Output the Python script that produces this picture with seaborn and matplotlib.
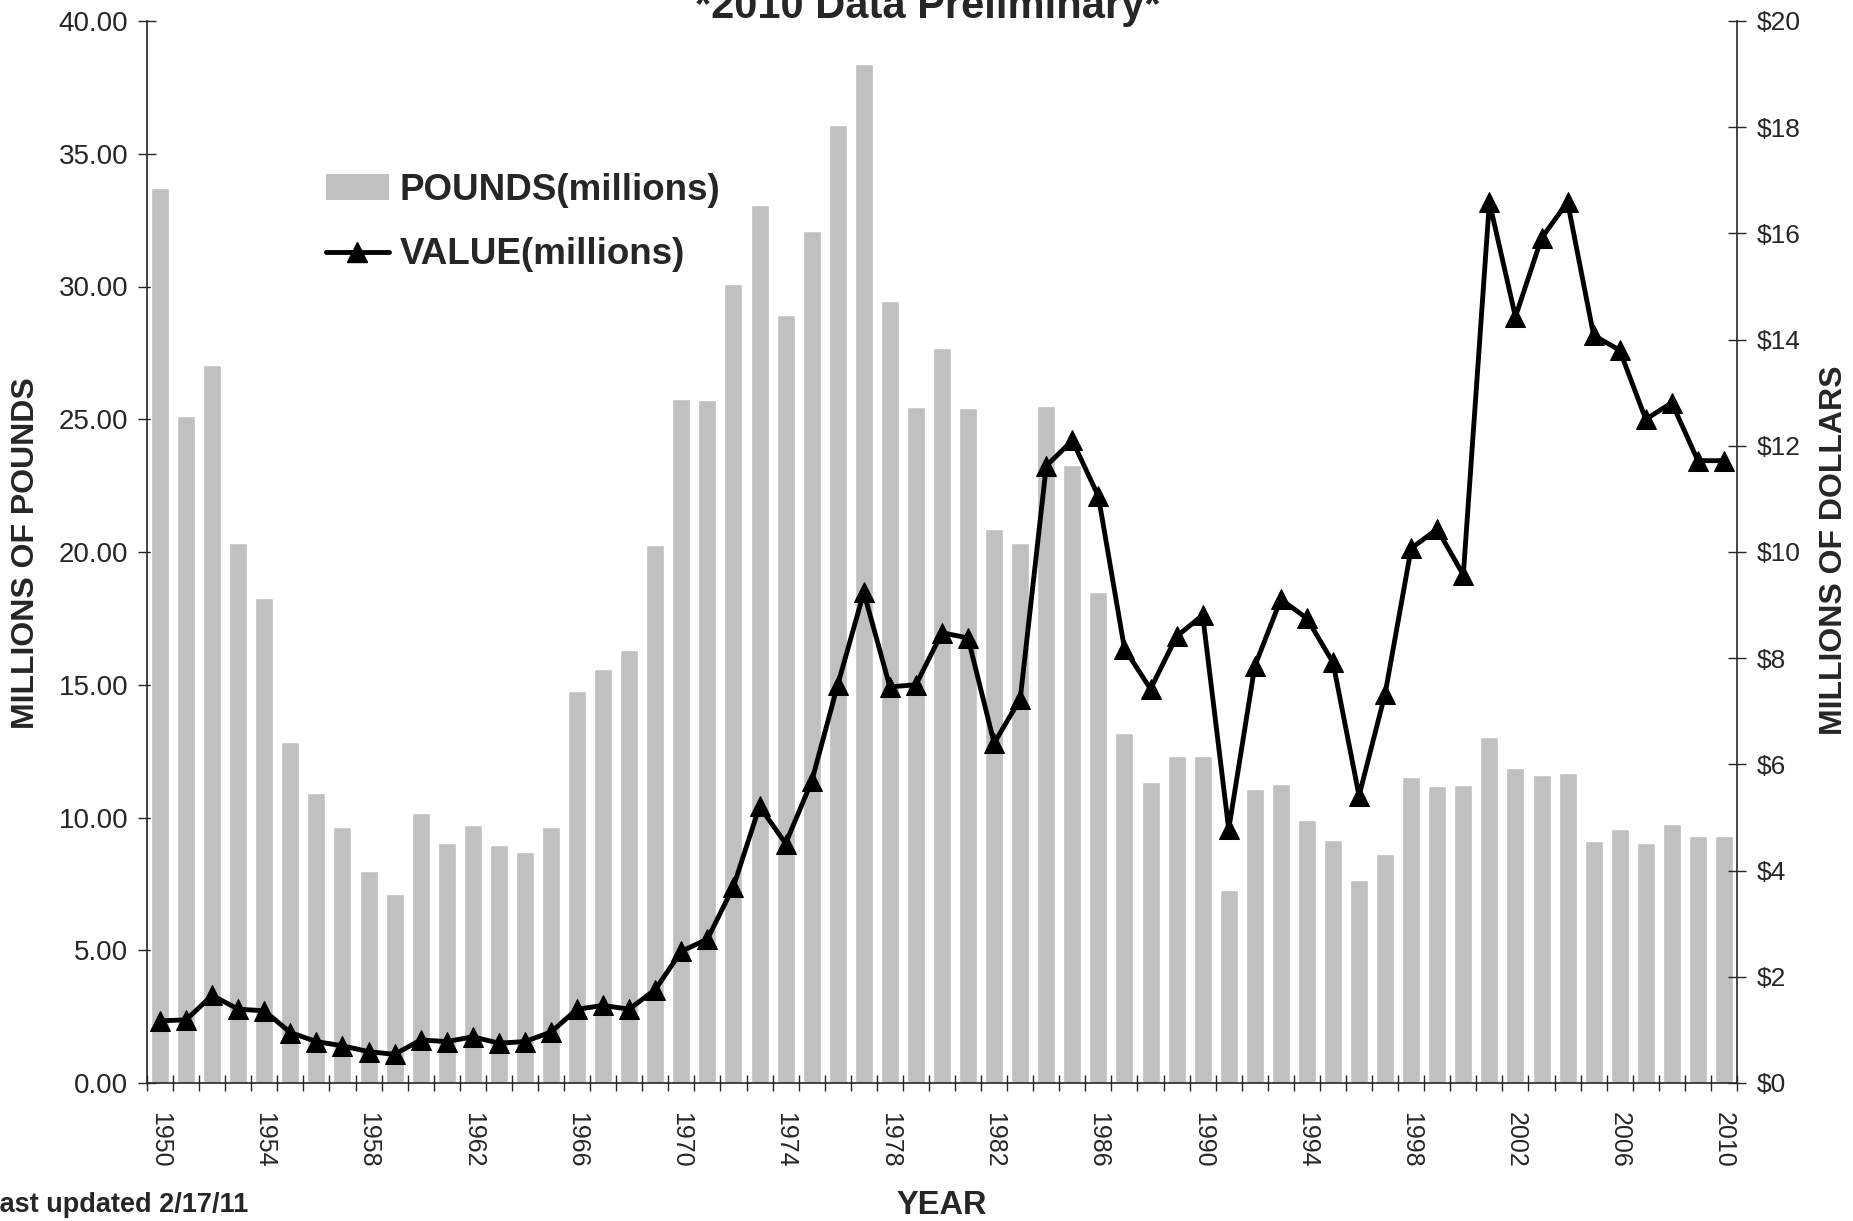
import numpy as np
import pandas as pd
import matplotlib
matplotlib.use("Agg")
import matplotlib.pyplot as plt
import seaborn as sns
from matplotlib.patches import Patch
from matplotlib.lines import Line2D

# --- datos ---
years = list(range(1950, 2011))
pounds = [33.72, 25.14, 27.06, 20.33, 18.27, 12.86, 10.93, 9.64, 8.00, 7.10,
          10.17, 9.03, 9.72, 8.98, 8.69, 9.64, 14.76, 15.58, 16.32, 20.25,
          25.77, 25.74, 30.10, 33.08, 28.94, 32.10, 36.09, 38.39, 29.44, 25.48,
          27.70, 25.43, 20.86, 20.33, 25.50, 23.29, 18.51, 13.20, 11.33, 12.33,
          12.33, 7.26, 11.09, 11.27, 9.90, 9.14, 7.63, 8.61, 11.54, 11.17,
          11.22, 13.02, 11.88, 11.59, 11.67, 9.11, 9.58, 9.03, 9.77, 9.32, 9.29]
values = [1.17, 1.19, 1.65, 1.39, 1.36, 0.95, 0.78, 0.70, 0.59, 0.54,
          0.81, 0.78, 0.87, 0.75, 0.78, 0.96, 1.39, 1.46, 1.39, 1.76,
          2.48, 2.71, 3.70, 5.21, 4.51, 5.68, 7.50, 9.24, 7.46, 7.50,
          8.48, 8.38, 6.40, 7.23, 11.62, 12.10, 11.05, 8.18, 7.42, 8.41,
          8.81, 4.78, 7.85, 9.11, 8.75, 7.92, 5.41, 7.33, 10.07, 10.43,
          9.57, 16.59, 14.43, 15.91, 16.59, 14.08, 13.80, 12.50, 12.81, 11.72, 11.72]
left_ticks = [0, 5, 10, 15, 20, 25, 30, 35, 40]
right_ticks = [0, 2, 4, 6, 8, 10, 12, 14, 16, 18, 20]
year_labels = list(range(1950, 2011, 4))

df = pd.DataFrame({"year": years, "pounds": pounds, "value": values})
df["pos"] = np.arange(len(df))

sns.set_style("ticks")
plt.rcParams["font.family"] = ["Liberation Sans", "DejaVu Sans"]

W, H = 1853, 1221
fig = plt.figure(figsize=(W / 100, H / 100), dpi=100)
ax = fig.add_axes([147 / W, 1 - 1083 / H, (1737 - 147) / W, (1083 - 21) / H])

# barras (libras)
sns.barplot(data=df, x="year", y="pounds", ax=ax, color="#C0C0C0",
            saturation=1, width=0.69)
ax.set_xlim(-0.5, len(df) - 0.5)
ax.set_ylim(0, 40)
ax.set_xlabel("")
ax.set_ylabel("")

# linea (valor)
ax2 = ax.twinx()
sns.lineplot(data=df, x="pos", y="value", ax=ax2, color="black", linewidth=3.5,
             marker="^", markersize=14.5, markeredgecolor="black")
ax2.set_ylim(0, 20)
ax2.set_xlim(-0.5, len(df) - 0.5)
ax2.set_ylabel("")
ax2.set_xlabel("")

# ejes y
ax.set_yticks(left_ticks)
ax.set_yticklabels([f"{v:.2f}" for v in left_ticks])
ax2.set_yticks(right_ticks)
ax2.set_yticklabels([f"${v}" for v in right_ticks])
ax.tick_params(axis="y", direction="inout", length=13, width=1, pad=7, labelsize=20)
ax2.tick_params(axis="y", direction="inout", length=13, width=1, pad=8, labelsize=19)

# eje x
pos_labels = [years.index(y) for y in year_labels]
ax.set_xticks(pos_labels)
ax.set_xticklabels([str(y) for y in year_labels], rotation=-90)
ax.set_xticks(np.arange(-0.5, len(df), 1), minor=True)
ax.tick_params(axis="x", which="major", length=0, pad=21, labelsize=18)
ax.tick_params(axis="x", which="minor", direction="inout", length=12, width=1)
ax2.tick_params(axis="x", which="both", length=0)

for a in (ax, ax2):
    a.spines["top"].set_visible(False)
    for s in a.spines.values():
        s.set_linewidth(1.2)
ax.spines["right"].set_visible(False)
ax2.spines["left"].set_visible(False)
ax2.spines["bottom"].set_visible(False)

# textos
fig.text(928 / W, 1 - 18 / H, "*2010 Data Preliminary*", ha="center", va="baseline",
         fontsize=30, fontweight="bold")
fig.text(26 / W, 1 - 553 / H, "MILLIONS OF POUNDS", rotation=90, ha="center", va="center",
         fontsize=23, fontweight="bold")
fig.text(1834 / W, 1 - 550 / H, "MILLIONS OF DOLLARS", rotation=90, ha="center", va="center",
         fontsize=23, fontweight="bold")
fig.text(942 / W, 1 - 1205 / H, "YEAR", ha="center", va="center",
         fontsize=23.5, fontweight="bold")
fig.text(-17 / W, 1 - 1205 / H, "Last updated 2/17/11", ha="left", va="center",
         fontsize=19.5, fontweight="bold")

# leyenda
handles = [Patch(facecolor="#C0C0C0", edgecolor="none"),
           Line2D([], [], color="black", linewidth=3.5, marker="^", markersize=14.5)]
fig.legend(handles, ["POUNDS(millions)", "VALUE(millions)"], loc="upper left",
           bbox_to_anchor=(326 / W, 1 - 173 / H), frameon=False,
           prop={"weight": "bold", "size": 26.5}, handlelength=1.7,
           handletextpad=0.3, labelspacing=0.8, borderpad=0, borderaxespad=0)

fig.savefig("out.png", dpi=100)
